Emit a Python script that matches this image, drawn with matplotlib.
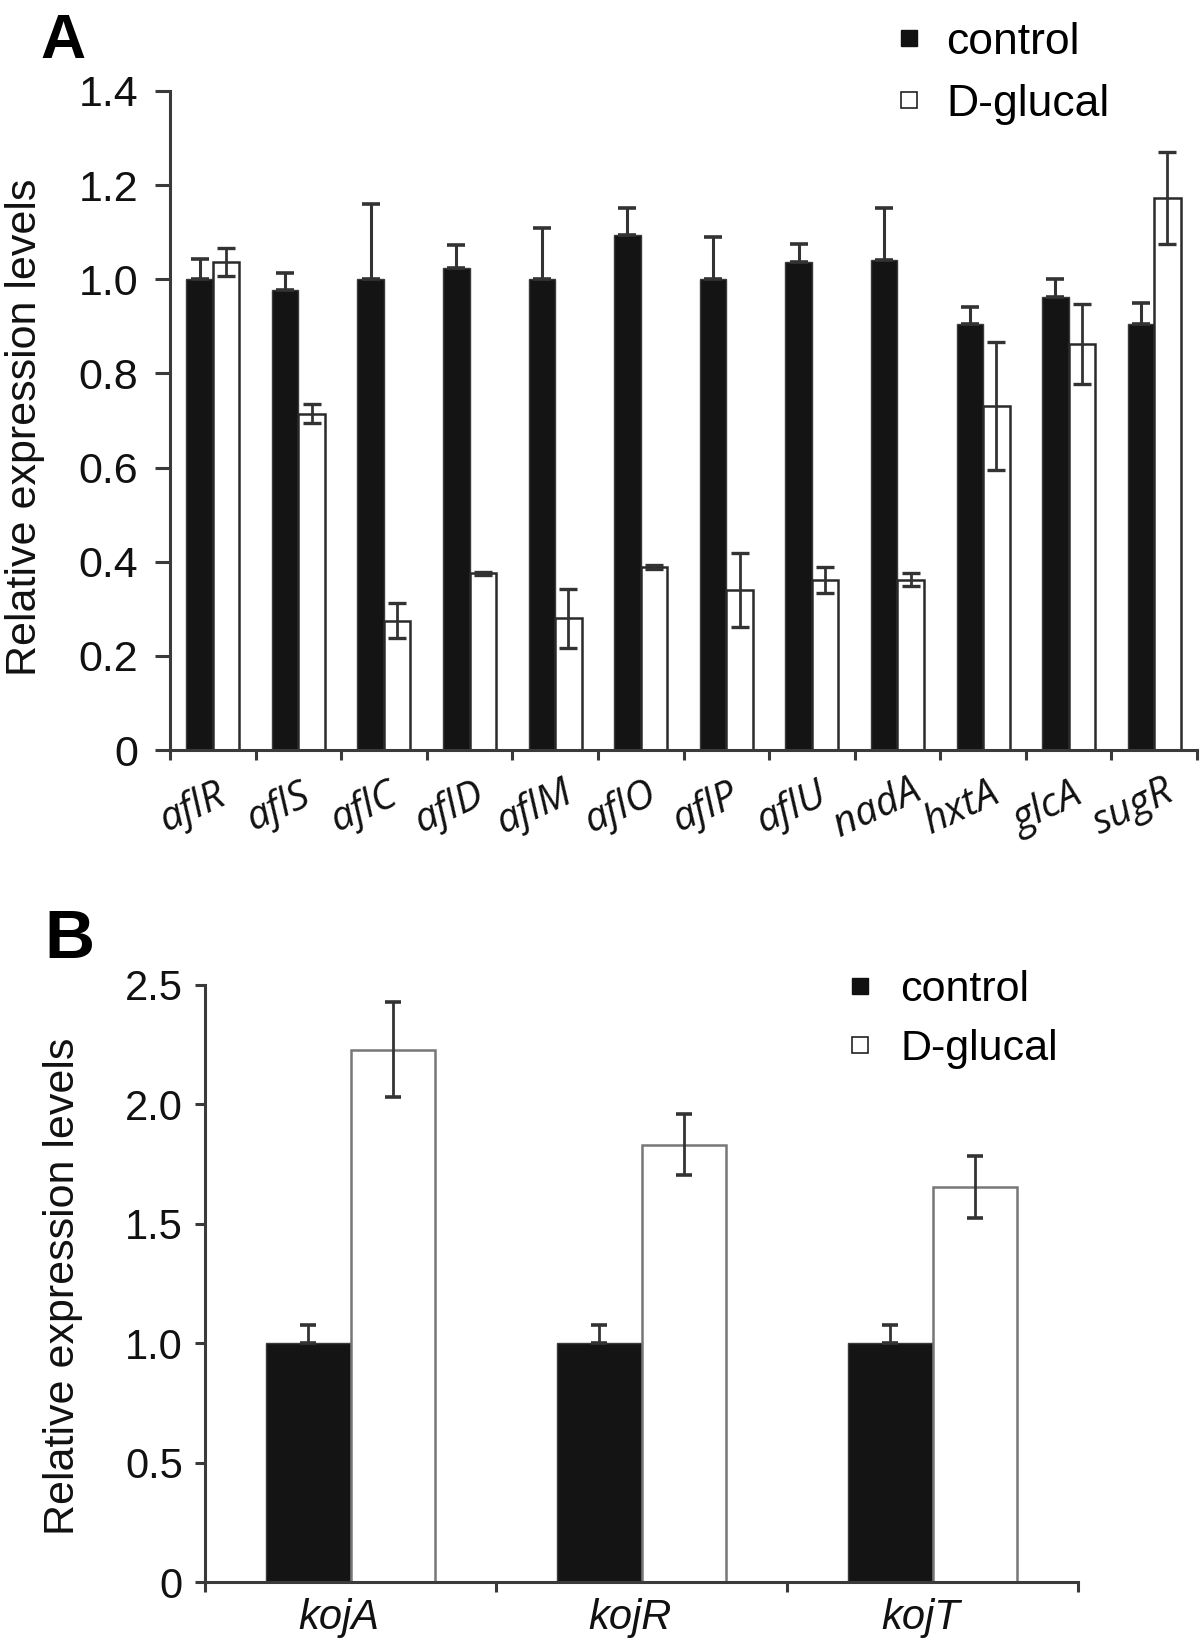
import matplotlib
matplotlib.use('Agg')
import matplotlib.pyplot as plt
import numpy as np
from matplotlib.lines import Line2D

# panel A data
genes_a = ['aflR', 'aflS', 'aflC', 'aflD', 'aflM', 'aflO', 'aflP', 'aflU',
           'nadA', 'hxtA', 'glcA', 'sugR']
control_a = [1.00, 0.977, 1.00, 1.023, 1.00, 1.094, 1.00, 1.037, 1.041, 0.906, 0.963, 0.906]
control_a_err = [0.044, 0.036, 0.16, 0.05, 0.11, 0.057, 0.09, 0.037, 0.11, 0.036, 0.037, 0.043]
dglucal_a = [1.037, 0.714, 0.275, 0.375, 0.28, 0.389, 0.34, 0.361, 0.362, 0.73, 0.863, 1.172]
dglucal_a_err = [0.03, 0.02, 0.037, 0.004, 0.063, 0.004, 0.078, 0.028, 0.014, 0.136, 0.085, 0.098]

# panel B data
genes_b = ['kojA', 'kojR', 'kojT']
control_b = [1.0, 1.0, 1.0]
control_b_err = [0.076, 0.076, 0.076]
dglucal_b = [2.229, 1.832, 1.654]
dglucal_b_err = [0.2, 0.127, 0.13]

plt.rcParams['font.family'] = ['Liberation Sans', 'DejaVu Sans']
W, H = 1200, 1644
fig = plt.figure(figsize=(W / 100, H / 100), dpi=100)

axis_col = '#3a3a3a'


def style_axes(ax, tick_len_y, pad_y, labelsize):
    for s in ['top', 'right']:
        ax.spines[s].set_visible(False)
    for s in ['left', 'bottom']:
        ax.spines[s].set_linewidth(2.2)
        ax.spines[s].set_color(axis_col)
    ax.tick_params(axis='y', length=tick_len_y, width=2.2, color=axis_col,
                   labelsize=labelsize, pad=pad_y, labelcolor='#111')
    ax.tick_params(axis='x', length=7, width=2.2, color=axis_col, labelbottom=False)


def legend(ax, x, y, gap, size, spacing):
    handles = [Line2D([], [], ls='none', marker='s', markersize=12,
                      markerfacecolor='#111', markeredgecolor='#111'),
               Line2D([], [], ls='none', marker='s', markersize=12,
                      markerfacecolor='white', markeredgecolor='#222', markeredgewidth=1.2)]
    ax.legend(handles, ['control', 'D-glucal'], loc='upper left',
              bbox_to_anchor=(x, y), bbox_transform=fig.transFigure,
              frameon=False, fontsize=size, handlelength=0.45, handletextpad=gap,
              labelspacing=spacing, borderpad=0, borderaxespad=0)


# ---------- panel A ----------
axA = fig.add_axes([170 / W, 1 - 750 / H, 1027 / W, 659 / H])
n = len(genes_a)
xa = np.arange(n) + 0.5
bw = 0.31
axA.bar(xa - bw / 2, control_a, bw, color='#141414', edgecolor='#3a3a3a', linewidth=1, zorder=2)
axA.bar(xa + bw / 2, dglucal_a, bw, color='white', edgecolor='#2a2a2a', linewidth=1.8, zorder=2)
axA.errorbar(xa - bw / 2, control_a, yerr=[np.zeros(n), control_a_err], fmt='none',
             ecolor='#333', elinewidth=2.2, capsize=6.5, capthick=2.6, zorder=3)
axA.errorbar(xa + bw / 2, dglucal_a, yerr=dglucal_a_err, fmt='none',
             ecolor='#333', elinewidth=2.0, capsize=6.5, capthick=2.4, zorder=3)
axA.set_xlim(0, n)
axA.set_ylim(0, 1.4)
axA.set_xticks(np.arange(n + 1))
axA.set_yticks(np.arange(0, 1.41, 0.2))
axA.set_yticklabels(['0'] + ['%.1f' % v for v in np.arange(0.2, 1.41, 0.2)])
style_axes(axA, 10.8, 12, 31)
for i, g in enumerate(genes_a):
    axA.text(xa[i] - 0.24, -0.088, g, transform=axA.get_xaxis_transform(),
             ha='center', va='center', rotation=25, fontsize=29,
             family='Open Sans', style='italic', color='#111')
legend(axA, 899 / W, 1 - 22 / H, 0.62, 32, 0.47)
fig.text(25 / W, 1 - 427 / H, 'Relative expression levels', rotation=90,
         ha='center', va='center', fontsize=31, color='#111')
fig.text(40 / W, 1 - 58 / H, 'A', fontsize=45, fontweight='bold', ha='left', va='baseline')

# ---------- panel B ----------
axB = fig.add_axes([205 / W, 1 - 1582 / H, 873 / W, 597 / H])
m = len(genes_b)
xb = np.arange(m) + 0.5
bwb = 0.29
axB.bar(xb - bwb / 2, control_b, bwb, color='#141414', edgecolor='#3a3a3a', linewidth=1, zorder=2)
axB.bar(xb + bwb / 2, dglucal_b, bwb, color='white', edgecolor='#777', linewidth=1.8, zorder=2)
axB.errorbar(xb - bwb / 2, control_b, yerr=[np.zeros(m), control_b_err], fmt='none',
             ecolor='#333', elinewidth=2.0, capsize=6, capthick=2.6, zorder=3)
axB.errorbar(xb + bwb / 2, dglucal_b, yerr=dglucal_b_err, fmt='none',
             ecolor='#333', elinewidth=2.0, capsize=6, capthick=2.6, zorder=3)
axB.set_xlim(0, m)
axB.set_ylim(0, 2.5)
axB.set_xticks(np.arange(m + 1))
axB.set_yticks(np.arange(0, 2.51, 0.5))
axB.set_yticklabels(['0'] + ['%.1f' % v for v in np.arange(0.5, 2.51, 0.5)])
style_axes(axB, 7, 9, 30)
for i, g in enumerate(genes_b):
    axB.text(xb[i] - 0.04, -0.06, g, transform=axB.get_xaxis_transform(),
             ha='center', va='center', fontsize=30, style='italic', color='#111')
legend(axB, 850 / W, 1 - 970 / H, 0.72, 31, 0.44)
fig.text(63 / W, 1 - 1286 / H, 'Relative expression levels', rotation=90,
         ha='center', va='center', fontsize=31, color='#111')
fig.text(44 / W, 1 - 958 / H, 'B', fontsize=50, fontweight='bold', ha='left', va='baseline')

fig.savefig('out.png', dpi=100, facecolor='white')
